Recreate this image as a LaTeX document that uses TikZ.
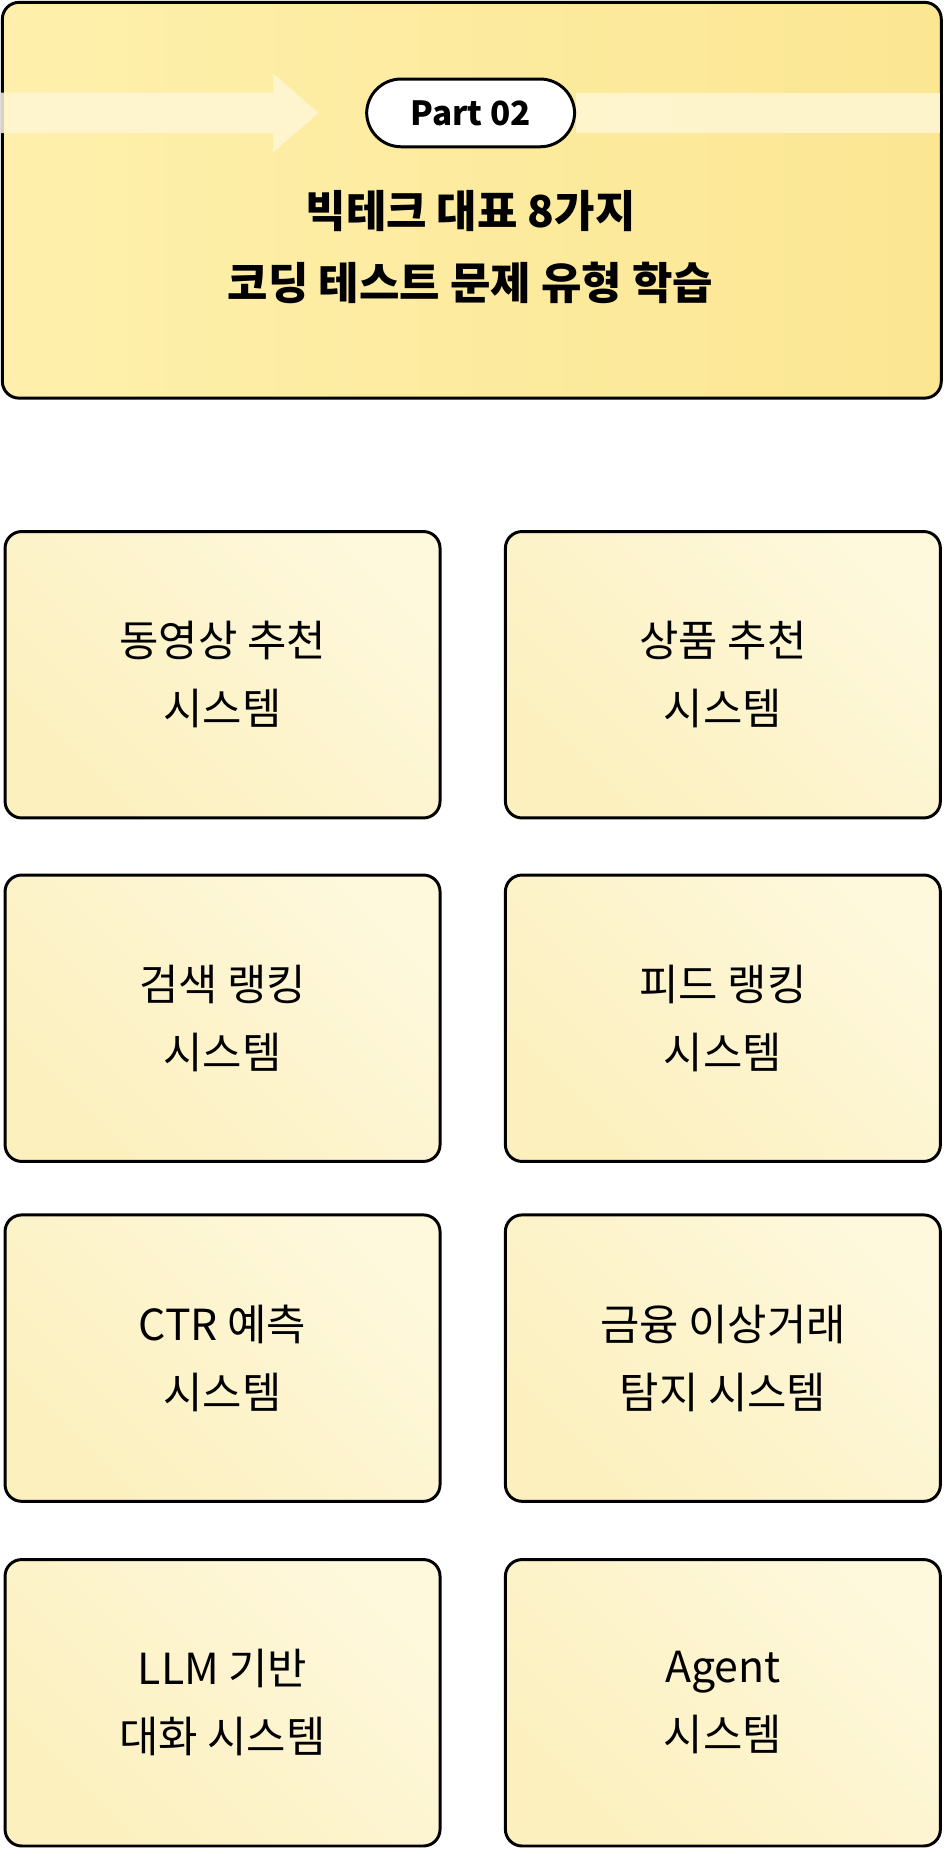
\documentclass[tikz,border=0pt]{standalone}
\usepackage{fontspec}
\setmainfont{Noto Sans CJK KR}
\usetikzlibrary{positioning, arrows.meta}
\definecolor{panelA}{HTML}{FEF0AC}
\definecolor{panelB}{HTML}{FBE692}
\definecolor{boxA}{HTML}{FCF0BE}
\definecolor{boxB}{HTML}{FEF8DC}
\definecolor{bandcol}{HTML}{FFF7D6}
\tikzset{
  topic/.style={draw=black, line width=2.5pt, rounded corners=14pt,
    top color=boxA, bottom color=boxB, shading angle=135,
    minimum width=366pt, minimum height=241pt, anchor=north west,
    align=center, font=\fontsize{36}{57}\selectfont},
  pill/.style={draw=black, line width=2.5pt, rounded corners=29pt, fill=white,
    minimum width=175pt, minimum height=57pt, font=\fontsize{28}{30}\selectfont\bfseries},
  headline/.style={font=\fontsize{37}{60}\selectfont\bfseries, align=center}
}
\begin{document}
\begin{tikzpicture}[x=1pt, y=-1pt]
    \useasboundingbox (0,0) rectangle (800,1560);
    % 상단 패널
    \shade[left color=panelA, right color=panelB, draw=black, line width=2.5pt,
      rounded corners=14pt] (2,2) rectangle (792,335);
    % 화살표 띠
    \fill[bandcol, opacity=0.85] (1,78) -- (230,78) -- (230,62) -- (268,95)
      -- (230,128) -- (230,112) -- (1,112) -- cycle;
    \fill[bandcol, opacity=0.85] (485,78) rectangle (791,112);
    % 파트 라벨
    \node[pill] (part) at (396,95) {Part 02};
    % 제목
    \node[headline] (title) at (396,208) {빅테크 대표 8가지\\코딩 테스트 문제 유형 학습};
    % 문제 유형 상자
    \node[topic] (video) at (3,446) {동영상 추천\\시스템};
    \node[topic] (goods) at (424,446) {상품 추천\\시스템};
    \node[topic] (search) at (3,735) {검색 랭킹\\시스템};
    \node[topic] (feed) at (424,735) {피드 랭킹\\시스템};
    \node[topic] (ctr) at (3,1021) {CTR 예측\\시스템};
    \node[topic] (fraud) at (424,1021) {금융 이상거래\\탐지 시스템};
    \node[topic] (llm) at (3,1311) {LLM 기반\\대화 시스템};
    \node[topic] (agent) at (424,1311) {Agent\\시스템};
\end{tikzpicture}
\end{document}
